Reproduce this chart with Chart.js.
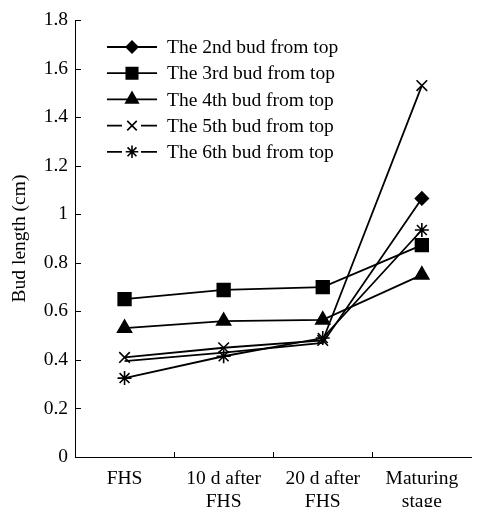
<!DOCTYPE html>
<html>
<head>
<meta charset="utf-8">
<script src="https://cdn.jsdelivr.net/npm/chart.js@4/dist/chart.umd.min.js"></script>
<style>
  html, body { margin: 0; padding: 0; background: #fff; }
  #wrap { width: 482px; height: 507px; }
</style>
</head>
<body>
<div id="wrap"><canvas id="budChart" width="482" height="507"></canvas></div>
<script>
// categories (x axis) and measured bud lengths (cm)
var stages = [['FHS'], ['10 d after', 'FHS'], ['20 d after', 'FHS'], ['Maturing', 'stage']];
var seriesNames = ['The 2nd bud from top', 'The 3rd bud from top', 'The 4th bud from top',
  'The 5th bud from top', 'The 6th bud from top'];
var bud2 = [0.395, 0.43, 0.47, 1.065];
var bud3 = [0.65, 0.688, 0.70, 0.873];
var bud4 = [0.531, 0.56, 0.565, 0.75];
var bud5 = [0.41, 0.45, 0.48, 1.53];
var bud6 = [0.325, 0.415, 0.49, 0.935];
var yTickLabels = ['0', '0.2', '0.4', '0.6', '0.8', '1', '1.2', '1.4', '1.6', '1.8'];

var FONT = '"Liberation Serif", "Times New Roman", serif';
var FSIZE = 19.5;
var markers = [
  { style: 'rectRot', radius: 6.5 },
  { style: 'rect', radius: 9 },
  { style: 'triangle', radius: 8 },
  { style: 'crossRot', radius: 7.5 },
  { style: 'star', radius: 7 }
];

function makeSet(idx, values, radii) {
  return {
    label: seriesNames[idx],
    data: values,
    borderColor: '#000',
    backgroundColor: '#000',
    borderWidth: 1.8,
    pointStyle: markers[idx].style,
    pointRadius: radii || markers[idx].radius,
    pointHoverRadius: radii || markers[idx].radius,
    pointBackgroundColor: '#000',
    pointBorderColor: '#000',
    pointBorderWidth: 1.6,
    tension: 0,
    fill: false
  };
}

function drawMarker(ctx, m, x, y) {
  ctx.save();
  ctx.fillStyle = '#000';
  ctx.strokeStyle = '#000';
  ctx.lineWidth = 1.6;
  if (Chart.helpers && Chart.helpers.drawPoint) {
    Chart.helpers.drawPoint(ctx, { pointStyle: m.style, radius: m.radius * 0.9, rotation: 0, borderWidth: 1.6 }, x, y);
  }
  ctx.restore();
}

// legend drawn inside the plot area, line sample with marker
var budLegend = {
  id: 'budLegend',
  afterDraw: function (chart) {
    var ctx = chart.ctx;
    var area = chart.chartArea;
    var x0 = area.left + 32;
    var y0 = area.top + 27;
    var step = 26.2;
    ctx.save();
    ctx.font = FSIZE + 'px ' + FONT;
    ctx.fillStyle = '#000';
    ctx.textBaseline = 'middle';
    for (var i = 0; i < seriesNames.length; i++) {
      var y = y0 + i * step;
      ctx.strokeStyle = '#000';
      ctx.lineWidth = 1.8;
      ctx.beginPath();
      if (i < 3) {
        ctx.moveTo(x0, y);
        ctx.lineTo(x0 + 50, y);
      } else {
        ctx.moveTo(x0, y);
        ctx.lineTo(x0 + 15, y);
        ctx.moveTo(x0 + 34, y);
        ctx.lineTo(x0 + 50, y);
      }
      ctx.stroke();
      drawMarker(ctx, markers[i], x0 + 25, y);
      ctx.fillText(seriesNames[i], x0 + 60, y + 1);
    }
    ctx.restore();
  }
};

// short tick marks pointing into the plot
var innerTicks = {
  id: 'innerTicks',
  afterDraw: function (chart) {
    var ctx = chart.ctx;
    var area = chart.chartArea;
    var ys = chart.scales.y;
    var xs = chart.scales.x;
    ctx.save();
    ctx.strokeStyle = '#000';
    ctx.lineWidth = 1;
    ctx.beginPath();
    ys.ticks.forEach(function (t) {
      var py = Math.round(ys.getPixelForValue(t.value)) + 0.5;
      ctx.moveTo(area.left, py);
      ctx.lineTo(area.left + 6, py);
    });
    for (var i = 0; i < stages.length - 1; i++) {
      var px = Math.round((xs.getPixelForValue(i) + xs.getPixelForValue(i + 1)) / 2) + 0.5;
      ctx.moveTo(px, area.bottom);
      ctx.lineTo(px, area.bottom - 5);
    }
    ctx.stroke();
    ctx.restore();
  }
};

var ctx = document.getElementById('budChart').getContext('2d');
var budChart = new Chart(ctx, {
  type: 'line',
  data: {
    labels: stages,
    datasets: [
      makeSet(0, bud2, [0, 0, 0, 6.5]),
      makeSet(1, bud3),
      makeSet(2, bud4),
      makeSet(3, bud5),
      makeSet(4, bud6)
    ]
  },
  options: {
    responsive: false,
    animation: false,
    devicePixelRatio: 1,
    layout: { padding: { top: 20, right: 0, left: 0, bottom: 0 } },
    plugins: {
      legend: { display: false },
      tooltip: { enabled: false }
    },
    scales: {
      x: {
        offset: true,
        grid: { display: false, drawTicks: false },
        border: { display: true, color: '#000', width: 1 },
        ticks: {
          color: '#000',
          font: { family: FONT, size: FSIZE, lineHeight: 1.18 },
          padding: 10,
          maxRotation: 0,
          autoSkip: false
        },
        afterFit: function (scale) { scale.height = 50; }
      },
      y: {
        min: 0,
        max: 1.8,
        grid: { display: false, drawTicks: false },
        border: { display: true, color: '#000', width: 1 },
        ticks: {
          stepSize: 0.2,
          color: '#000',
          padding: 7,
          font: { family: FONT, size: FSIZE },
          callback: function (v) { return yTickLabels[Math.round(v / 0.2)]; }
        },
        title: {
          display: true,
          text: 'Bud length (cm)',
          color: '#000',
          font: { family: FONT, size: FSIZE },
          padding: { top: 8, bottom: 0 }
        },
        afterFit: function (scale) { scale.width = 75; }
      }
    }
  },
  plugins: [budLegend, innerTicks]
});
</script>
</body>
</html>
